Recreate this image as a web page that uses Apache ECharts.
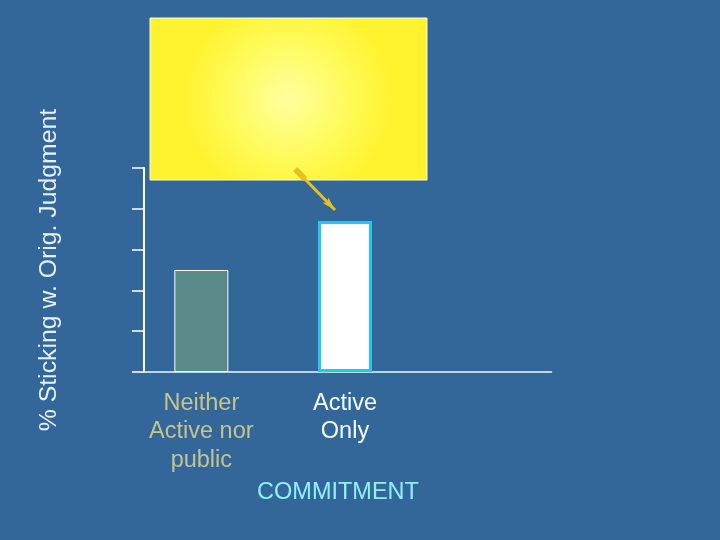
<!DOCTYPE html>
<html>
<head>
<meta charset="utf-8">
<script src="https://cdn.jsdelivr.net/npm/echarts@6/dist/echarts.min.js"></script>
<style>
  html, body { margin: 0; padding: 0; background: #336699; }
  #chart { width: 720px; height: 540px; }
</style>
</head>
<body>
<div id="chart"></div>
<script>
// 数据
const categories = ['Neither\nActive nor\npublic', 'Active\nOnly', '']
const values = [2.5, 3.7, null]
const yTicks = [0, 1, 2, 3, 4, 5]

// 样式
const font = "'Liberation Sans', Arial, sans-serif"
const labelColors = ['#c4c58e', '#f2ffff', '#f2ffff']
const barStyles = [
  {color: '#5a8a8a', borderColor: '#ffffff', borderWidth: 1},
  {color: '#ffffff', borderColor: '#22c8f2', borderWidth: 3},
  {}
]

const myChart = echarts.init(document.getElementById('chart'))
myChart.setOption({
  backgroundColor: '#336699',
  animation: false,
  textStyle: {fontFamily: font},
  grid: [
    // 柱子用的网格
    {left: 129.5, width: 431, top: 168, bottom: 168},
    // 坐标轴线用的网格
    {left: 144, right: 168.5, top: 168, bottom: 168}
  ],
  xAxis: [
    {
      type: 'category',
      gridIndex: 0,
      data: categories,
      axisLine: {show: false},
      axisTick: {show: false},
      axisLabel: {
        interval: 0,
        margin: 17,
        fontSize: 23.5,
        lineHeight: 28.5,
        fontFamily: font,
        color: (val, idx) => labelColors[idx]
      }
    },
    {
      type: 'value',
      gridIndex: 1,
      min: 0,
      max: 1,
      axisLine: {show: true, lineStyle: {color: '#e8ffff', width: 1.5}},
      axisTick: {show: false},
      axisLabel: {show: false},
      splitLine: {show: false}
    }
  ],
  yAxis: [
    {
      type: 'value',
      gridIndex: 0,
      min: yTicks[0],
      max: yTicks[yTicks.length - 1],
      interval: 1,
      show: false
    },
    {
      type: 'value',
      gridIndex: 1,
      min: yTicks[0],
      max: yTicks[yTicks.length - 1],
      interval: 1,
      name: '% Sticking w. Orig. Judgment',
      nameLocation: 'middle',
      nameRotate: 90,
      nameGap: 82,
      nameTextStyle: {color: '#e6f0ff', fontSize: 24.8, fontFamily: font},
      axisLine: {show: true, lineStyle: {color: '#ffffff', width: 2}},
      axisTick: {show: true, inside: false, length: 12, lineStyle: {color: '#ffffff', width: 1.5}},
      axisLabel: {show: false},
      splitLine: {show: false}
    }
  ],
  series: [
    {
      type: 'bar',
      xAxisIndex: 0,
      yAxisIndex: 0,
      barWidth: 54,
      z: 5,
      data: values.map((v, i) => ({value: v, itemStyle: barStyles[i]})),
      markLine: {
        silent: true,
        symbol: ['rect', 'arrow'],
        symbolSize: [6, 14],
        label: {show: false},
        lineStyle: {color: '#e8c020', width: 3, type: 'solid'},
        data: [[{x: 300, y: 174}, {x: 335, y: 210}]]
      }
    }
  ],
  graphic: [
    {
      type: 'rect',
      shape: {x: 150, y: 18, width: 277, height: 162},
      style: {
        fill: {
          type: 'radial', x: 0.5, y: 0.5, r: 0.65,
          colorStops: [
            {offset: 0, color: '#ffffa0'},
            {offset: 0.6, color: '#fffa55'},
            {offset: 1, color: '#fff22e'}
          ]
        },
        stroke: '#fffbd8',
        lineWidth: 1
      },
      z: 1
    },
    {
      type: 'text',
      x: 338,
      y: 493,
      style: {
        text: 'COMMITMENT',
        fill: '#8ff0ff',
        fontSize: 23.5,
        fontFamily: font,
        align: 'center',
        verticalAlign: 'middle'
      }
    }
  ]
})
</script>
</body>
</html>
